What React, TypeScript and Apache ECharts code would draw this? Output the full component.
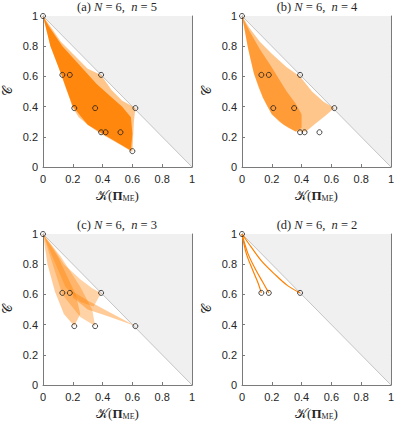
import React, { useEffect, useRef } from 'react';
import * as echarts from 'echarts';

// ---- data ----
const panelLetters = ['a', 'b', 'c', 'd'];
const panelSmallN = ['5', '4', '3', '2'];
const bigN = '6';

const markersA = [[0, 1], [0.13, 0.61], [0.18, 0.61], [0.39, 0.61], [0.21, 0.39], [0.35, 0.39], [0.62, 0.39], [0.39, 0.23], [0.42, 0.23], [0.52, 0.23], [0.6, 0.105]];
const markersB = [[0, 1], [0.13, 0.61], [0.18, 0.61], [0.39, 0.61], [0.21, 0.39], [0.35, 0.39], [0.62, 0.39], [0.39, 0.23], [0.42, 0.23], [0.52, 0.23]];
const markersC = [[0, 1], [0.13, 0.61], [0.18, 0.61], [0.39, 0.61], [0.21, 0.39], [0.35, 0.39], [0.62, 0.39]];
const markersD = [[0, 1], [0.13, 0.61], [0.18, 0.61], [0.39, 0.61]];

// region outlines of the sampled point clouds
const cloudAOuter = [[0, 1], [0.02, 0.92], [0.05, 0.8], [0.09, 0.7], [0.12, 0.62], [0.15, 0.53], [0.18, 0.45], [0.2, 0.39], [0.24, 0.33], [0.3, 0.28], [0.38, 0.225], [0.46, 0.18], [0.53, 0.14], [0.6, 0.1], [0.605, 0.2], [0.61, 0.3], [0.62, 0.39], [0.53, 0.44], [0.46, 0.51], [0.39, 0.61], [0.3, 0.65], [0.2, 0.75], [0.12, 0.83], [0.05, 0.93]];
const cloudAInner = [[0, 1], [0.05, 0.8], [0.12, 0.62], [0.2, 0.4], [0.3, 0.28], [0.45, 0.19], [0.59, 0.11], [0.6, 0.22], [0.59, 0.33], [0.53, 0.4], [0.45, 0.47], [0.36, 0.55], [0.24, 0.68], [0.13, 0.8], [0.04, 0.93]];
const cloudBOuter = [[0, 1], [0.02, 0.9], [0.04, 0.79], [0.06, 0.7], [0.08, 0.62], [0.11, 0.53], [0.14, 0.46], [0.17, 0.4], [0.2, 0.35], [0.25, 0.3], [0.31, 0.26], [0.36, 0.235], [0.43, 0.235], [0.49, 0.285], [0.56, 0.34], [0.62, 0.39], [0.55, 0.43], [0.47, 0.5], [0.39, 0.6], [0.3, 0.66], [0.2, 0.75], [0.12, 0.83], [0.05, 0.92]];
const cloudBInner = [[0, 1], [0.04, 0.79], [0.08, 0.62], [0.14, 0.46], [0.2, 0.35], [0.28, 0.28], [0.36, 0.235], [0.4, 0.26], [0.4, 0.35], [0.36, 0.42], [0.3, 0.5], [0.25, 0.58], [0.2, 0.66], [0.12, 0.78], [0.05, 0.9]];
const cloudC1 = [[0, 1], [0.03, 0.8], [0.08, 0.62], [0.14, 0.47], [0.21, 0.39], [0.25, 0.47], [0.22, 0.6], [0.1, 0.85]];
const cloudC2 = [[0, 1], [0.13, 0.6], [0.25, 0.45], [0.35, 0.39], [0.33, 0.5], [0.25, 0.65], [0.12, 0.85]];
const cloudC3 = [[0, 1], [0.06, 0.92], [0.14, 0.8], [0.25, 0.7], [0.33, 0.64], [0.39, 0.61], [0.34, 0.52], [0.25, 0.55], [0.15, 0.65], [0.05, 0.88]];
const cloudC4 = [[0.2, 0.62], [0.3, 0.56], [0.45, 0.48], [0.62, 0.39], [0.45, 0.45], [0.3, 0.5], [0.2, 0.58]];

const curveD1 = [[0, 1], [0.029, 0.87], [0.073, 0.758], [0.106, 0.68], [0.13, 0.61]];
const curveD2 = [[0, 1], [0.04, 0.87], [0.095, 0.758], [0.14, 0.68], [0.18, 0.61]];
const curveD3 = [[0, 1], [0.062, 0.913], [0.129, 0.824], [0.217, 0.736], [0.306, 0.658], [0.39, 0.61]];

const forbidden = [[0, 1], [1, 1], [1, 0]];
const diagonal = [[0, 1], [1, 0]];

const ORANGE = '255,128,0';
const AXIS = '#7a7a7a';

type Poly = { pts: number[][]; alpha: number };

const panels: { markers: number[][]; polys: Poly[]; curves: number[][][] }[] = [
  { markers: markersA, polys: [{ pts: cloudAOuter, alpha: 0.45 }, { pts: cloudAInner, alpha: 0.9 }], curves: [] },
  { markers: markersB, polys: [{ pts: cloudBOuter, alpha: 0.45 }, { pts: cloudBInner, alpha: 0.6 }], curves: [] },
  { markers: markersC, polys: [{ pts: cloudC1, alpha: 0.4 }, { pts: cloudC2, alpha: 0.35 }, { pts: cloudC3, alpha: 0.35 }, { pts: cloudC4, alpha: 0.4 }], curves: [] },
  { markers: markersD, polys: [], curves: [curveD1, curveD2, curveD3] },
];

const gridPos = [
  { left: 42, top: 16 },
  { left: 242, top: 16 },
  { left: 42, top: 234 },
  { left: 242, top: 234 },
];
const PW = 150;
const PH = 151;

function polySeries(pts: number[][], fill: string, k: number, z: number) {
  return {
    type: 'custom',
    xAxisIndex: 2 * k,
    yAxisIndex: 2 * k,
    z,
    silent: true,
    data: [[0.5, 0.5]],
    renderItem: (_p: any, api: any) => ({
      type: 'polygon',
      shape: { points: pts.map((p) => api.coord(p)) },
      style: { fill, stroke: 'none' },
    }),
  };
}

function buildOption() {
  const grid: any[] = [];
  const xAxis: any[] = [];
  const yAxis: any[] = [];
  const series: any[] = [];
  const graphic: any[] = [];
  const serif = "'Liberation Serif', 'DejaVu Serif', serif";
  const sans = "'Liberation Sans', Arial, sans-serif";

  panels.forEach((panel, k) => {
    const g = gridPos[k];
    grid.push({ left: g.left, top: g.top, width: PW, height: PH, containLabel: false });
    const common = {
      type: 'value', min: 0, max: 1, interval: 0.2, gridIndex: k,
      axisLine: { show: true, onZero: false, lineStyle: { color: AXIS, width: 1 } },
      axisTick: { show: true, inside: true, length: 3, lineStyle: { color: AXIS } },
      splitLine: { show: false },
    };
    xAxis.push({
      ...common, position: 'bottom',
      axisLabel: { color: '#262626', fontSize: 11, fontFamily: sans, margin: 6 },
      name: '{k|𝒦}({b|Π}{s|ME})',
      nameLocation: 'middle', nameGap: 22,
      nameTextStyle: {
        color: '#262626', fontFamily: serif, fontSize: 13,
        rich: {
          k: { fontFamily: serif, fontSize: 13, color: '#262626' },
          b: { fontFamily: serif, fontSize: 13, fontWeight: 'bold', color: '#262626' },
          s: { fontFamily: serif, fontSize: 8, color: '#262626', verticalAlign: 'bottom', padding: [5, 0, 0, 0] },
        },
      },
    });
    xAxis.push({ ...common, position: 'top', axisLabel: { show: false } });
    yAxis.push({
      ...common, position: 'left',
      axisLabel: { color: '#262626', fontSize: 11, fontFamily: sans, margin: 5 },
      name: '𝒞', nameLocation: 'middle', nameGap: 29, nameRotate: 90,
      nameTextStyle: { color: '#262626', fontFamily: serif, fontSize: 13 },
    });
    yAxis.push({ ...common, position: 'right', axisLabel: { show: false } });

    series.push(polySeries(forbidden, '#f0f0f0', k, 1));
    series.push({
      type: 'line', xAxisIndex: 2 * k, yAxisIndex: 2 * k, data: diagonal, symbol: 'none', z: 2,
      lineStyle: { color: '#c4c4c4', width: 1 }, silent: true,
    });
    panel.polys.forEach((p) => series.push(polySeries(p.pts, `rgba(${ORANGE},${p.alpha})`, k, 3)));
    panel.curves.forEach((c) => series.push({
      type: 'line', xAxisIndex: 2 * k, yAxisIndex: 2 * k, data: c, symbol: 'none', smooth: 0.35, z: 4,
      lineStyle: { color: `rgb(${ORANGE})`, width: 1.2 }, silent: true,
    }));
    series.push({
      type: 'scatter', xAxisIndex: 2 * k, yAxisIndex: 2 * k, data: panel.markers, z: 5,
      symbol: 'circle', symbolSize: 5,
      itemStyle: { color: 'rgba(0,0,0,0)', borderColor: '#1a1a1a', borderWidth: 1 }, silent: true,
    });

    graphic.push({
      type: 'text',
      x: g.left + PW / 2,
      y: g.top - 9,
      silent: true,
      style: {
        text: `(${panelLetters[k]}) {i|N} = ${bigN},  {i|n} = ${panelSmallN[k]}`,
        fontFamily: serif, fontSize: 12.5, fill: '#262626',
        align: 'center', verticalAlign: 'middle',
        rich: { i: { fontFamily: serif, fontSize: 12.5, fontStyle: 'italic', fill: '#262626' } },
      },
    });
  });

  return { animation: false, backgroundColor: '#ffffff', grid, xAxis, yAxis, series, graphic };
}

export default function App() {
  const ref = useRef<HTMLDivElement>(null);
  useEffect(() => {
    if (!ref.current) return;
    const chart = echarts.init(ref.current, undefined, { renderer: 'svg' });
    chart.setOption(buildOption() as any);
    return () => chart.dispose();
  }, []);
  return <div ref={ref} style={{ position: 'fixed', left: 0, top: 0, width: 397, height: 422, background: '#fff' }} />;
}
